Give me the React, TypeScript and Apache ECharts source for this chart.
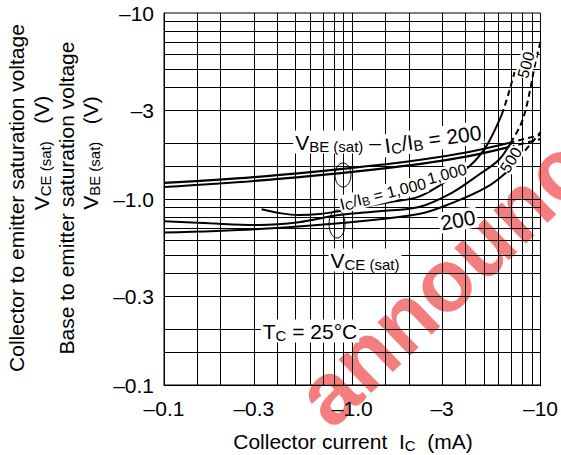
import React, { useEffect, useRef } from 'react';
import * as echarts from 'echarts';

const FONT = 'Liberation Sans';

// Axis ticks (magnitudes; plotted values are negative in the original)
const xTickValues = [0.1, 0.3, 1, 3, 10];
const xTickLabels = ['–0.1', '–0.3', '–1.0', '–3', '–10'];
const yTickValues = [0.1, 0.3, 1, 3, 10];
const yTickLabels = ['–0.1', '–0.3', '–1.0', '–3', '–10'];
const gridValues = [0.15, 0.2, 0.3, 0.4, 0.5, 0.6, 0.7, 0.8, 0.9, 1, 1.5, 2, 3, 4, 5, 6, 7, 8, 9];

// V_BE(sat), I_C/I_B = 200 : [|I_C| mA, |V| V]
const vbe200 = [[0.1, 1.22], [0.3, 1.31], [1, 1.47], [2.26, 1.62], [4.16, 1.79], [6.77, 2.0]];
const vbe200Dash = [[6.77, 2.0], [10, 2.21]];
// V_BE(sat), I_C/I_B = 1000
const vbe1000 = [[0.1, 1.16], [0.3, 1.25], [1, 1.4], [2.26, 1.54], [4.16, 1.7], [6.77, 1.9]];
const vbe1000Dash = [[6.77, 1.9], [10, 2.1]];
// V_CE(sat), I_C/I_B = 1000
const vce1000 = [[0.33, 0.88], [0.41, 0.84], [0.52, 0.82], [0.67, 0.83], [0.85, 0.86], [1.57, 0.96], [2.26, 1.03], [3.26, 1.27], [4.16, 1.49], [5.12, 1.9], [6.22, 2.83]];
const vce1000Dash = [[6.22, 2.83], [6.61, 3.41], [7.02, 4.2], [7.29, 4.82]];
// V_CE(sat), I_C/I_B = 500
const vce500 = [[0.1, 0.76], [0.175, 0.74], [0.32, 0.725], [0.52, 0.75], [0.85, 0.82], [1.39, 0.86], [2.26, 0.905], [3.38, 1.08], [4.7, 1.35], [6.0, 1.62], [6.94, 2.0]];
const vce500Dash = [[6.94, 2.0], [7.84, 2.5], [8.33, 3.01], [8.85, 3.95], [9.41, 5.45], [10, 6.98]];
// V_CE(sat), I_C/I_B = 200
const vce200 = [[0.1, 0.66], [0.32, 0.69], [0.85, 0.74], [2.26, 0.83], [3.38, 0.95], [5.12, 1.15], [6.53, 1.38], [7.65, 1.66]];
const vce200Dash = [[7.65, 1.66], [8.96, 2.0], [10, 2.29]];

function tickLabel(values: number[], labels: string[], v: number) {
  for (let i = 0; i < values.length; i++) {
    if (Math.abs(v - values[i]) / values[i] < 1e-6) return labels[i];
  }
  return '';
}

const rich = {
  n: { fontSize: 21, fontFamily: FONT, fill: '#000' },
  s: { fontSize: 15, fontFamily: FONT, fill: '#000', padding: [8, 0, 0, 0] },
  m: { fontSize: 16, fontFamily: FONT, fill: '#000' },
  ms: { fontSize: 12, fontFamily: FONT, fill: '#000', padding: [6, 0, 0, 0] },
  t: { fontSize: 21, fontFamily: FONT, fill: '#000' },
  ts: { fontSize: 15, fontFamily: FONT, fill: '#000', padding: [8, 0, 0, 0] },
};

function label(text: string, x: number, y: number, rotDeg = 0, extra: any = {}) {
  return {
    type: 'text',
    x,
    y,
    rotation: (rotDeg * Math.PI) / 180,
    z: 20,
    style: {
      text,
      rich,
      fontSize: 21,
      fontFamily: FONT,
      fill: '#000',
      align: 'center',
      verticalAlign: 'middle',
      backgroundColor: '#fff',
      padding: [0, 2],
      ...extra,
    },
  };
}

function ySeries(data: number[][], dashed: boolean, width = 2) {
  return {
    type: 'line',
    data,
    showSymbol: false,
    smooth: 0.35,
    silent: true,
    lineStyle: { color: '#000', width, type: dashed ? [6, 4] : 'solid' },
    z: 5,
  };
}

export default function App() {
  const ref = useRef<HTMLDivElement>(null);
  useEffect(() => {
    if (!ref.current) return;
    const chart = echarts.init(ref.current, undefined, { renderer: 'svg' });
    const gridLineData: any[] = [
      ...gridValues.map((v) => ({ xAxis: v })),
      ...gridValues.map((v) => ({ yAxis: v })),
    ];
    chart.setOption({
      animation: false,
      backgroundColor: '#fff',
      textStyle: { fontFamily: FONT },
      grid: { left: 164, right: 19, top: 13, bottom: 70, show: true, borderColor: '#000', borderWidth: 1, backgroundColor: 'transparent' },
      xAxis: {
        type: 'log',
        logBase: 10,
        min: 0.1,
        max: 10,
        axisLine: { show: true, lineStyle: { color: '#000', width: 1 } },
        axisTick: { show: false },
        splitLine: { show: false },
        minorTick: { show: false },
        axisLabel: {
          customValues: xTickValues,
          formatter: (v: number) => tickLabel(xTickValues, xTickLabels, v),
          color: '#000',
          fontSize: 21,
          fontFamily: FONT,
          margin: 13,
          showMinLabel: true,
          showMaxLabel: true,
        },
      },
      yAxis: {
        type: 'log',
        logBase: 10,
        min: 0.1,
        max: 10,
        axisLine: { show: true, lineStyle: { color: '#000', width: 1 } },
        axisTick: { show: false },
        splitLine: { show: false },
        axisLabel: {
          customValues: yTickValues,
          formatter: (v: number) => tickLabel(yTickValues, yTickLabels, v),
          color: '#000',
          fontSize: 21,
          fontFamily: FONT,
          margin: 10,
          showMinLabel: true,
          showMaxLabel: true,
        },
      },
      series: [
        {
          type: 'line',
          data: [],
          silent: true,
          z: 1,
          markLine: {
            silent: true,
            symbol: 'none',
            animation: false,
            label: { show: false },
            lineStyle: { color: '#000', width: 1, type: 'solid' },
            emphasis: { disabled: true },
            data: gridLineData,
          },
        },
        ySeries(vbe200, false, 2.2),
        ySeries(vbe200Dash, true, 2),
        ySeries(vbe1000, false, 2.2),
        ySeries(vbe1000Dash, true, 2),
        ySeries(vce1000, false),
        ySeries(vce1000Dash, true),
        ySeries(vce500, false),
        ySeries(vce500Dash, true),
        ySeries(vce200, false),
        ySeries(vce200Dash, true),
      ],
      graphic: [
        // watermark (under the drawing)
        { type: 'text', x: 341, y: 441, rotation: (44 * Math.PI) / 180, z: 0, silent: true, style: { text: 'announced', fontSize: 88, fontWeight: 'bold', fontFamily: FONT, fill: 'rgba(238, 45, 45, 0.62)', align: 'left', verticalAlign: 'bottom' } },
        // y-axis titles (rotated)
        { type: 'text', x: 16, y: 198, rotation: Math.PI / 2, z: 20, style: { text: 'Collector to emitter saturation voltage', fontSize: 21, fontFamily: FONT, fill: '#000', align: 'center', verticalAlign: 'middle' } },
        { type: 'text', x: 41, y: 153, rotation: Math.PI / 2, z: 20, style: { text: '{t|V}{ts|CE (sat)}{t|   (V)}', rich, fontSize: 21, fontFamily: FONT, fill: '#000', align: 'center', verticalAlign: 'middle' } },
        { type: 'text', x: 66, y: 198, rotation: Math.PI / 2, z: 20, style: { text: 'Base to emitter saturation voltage', fontSize: 21, fontFamily: FONT, fill: '#000', align: 'center', verticalAlign: 'middle' } },
        { type: 'text', x: 90, y: 153, rotation: Math.PI / 2, z: 20, style: { text: '{t|V}{ts|BE (sat)}{t|   (V)}', rich, fontSize: 21, fontFamily: FONT, fill: '#000', align: 'center', verticalAlign: 'middle' } },
        // x-axis title
        { type: 'text', x: 353, y: 441, z: 20, style: { text: '{t|Collector current  I}{ts|C}{t|  (mA)}', rich, fontSize: 21, fontFamily: FONT, fill: '#000', align: 'center', verticalAlign: 'middle' } },
        // annotations
        label('{n|V}{s|BE (sat)}{n| –}', 338, 142),
        label('{n|I}{s|C}{n|/I}{s|B}{n| = 200}', 433, 139, 8),
        label('{m|I}{ms|C}{m|/I}{ms|B}{m| = 1,000}', 383, 194, 14, { padding: [0, 1] }),
        label('{m|1,000}', 447, 174, 15, { padding: [0, 1] }),
        label('{n|200}', 458, 220, 10),
        label('{m|500}', 511, 160, 58, { padding: [0, 0] }),
        label('{m|500}', 526, 65, 75, { padding: [0, 0], fontSize: 18 }),
        label('{n|V}{s|CE (sat)}', 365, 260),
        label('{n|T}{s|C}{n| = 25°C}', 310, 331),
        { type: 'ellipse', shape: { cx: 343, cy: 175, rx: 8, ry: 12 }, style: { fill: 'none', stroke: '#000', lineWidth: 1 }, z: 21 },
        { type: 'ellipse', shape: { cx: 337, cy: 224, rx: 8, ry: 14 }, style: { fill: 'none', stroke: '#000', lineWidth: 1 }, z: 21 },
      ],
    });
    return () => chart.dispose();
  }, []);
  return <div ref={ref} style={{ position: 'fixed', left: 0, top: 0, width: 561, height: 455 }} />;
}
